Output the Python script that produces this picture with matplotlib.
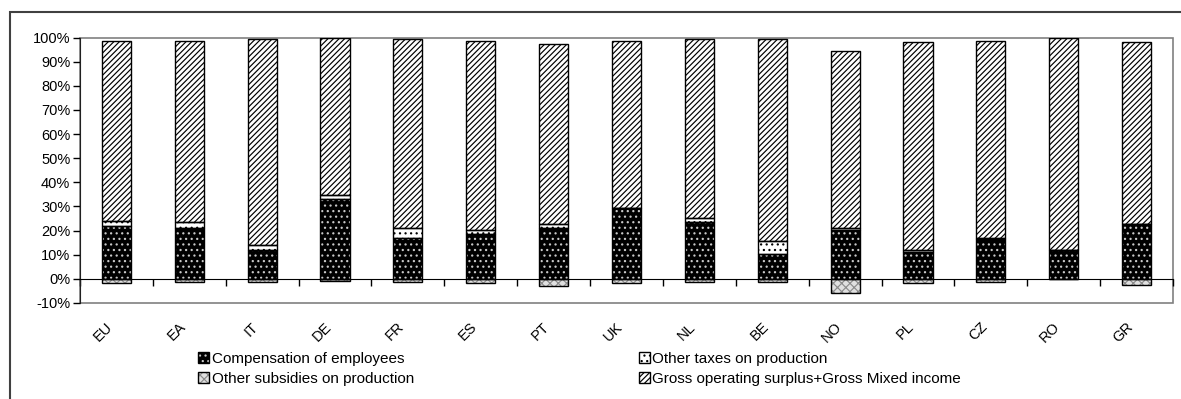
import matplotlib
matplotlib.use("Agg")
import matplotlib.pyplot as plt
import matplotlib.transforms as mtransforms
from matplotlib.patches import Rectangle
from matplotlib.ticker import FuncFormatter, FixedLocator
import numpy as np

plt.rcParams['font.family'] = ['Liberation Sans', 'DejaVu Sans']
plt.rcParams['axes.unicode_minus'] = False
plt.rcParams['hatch.linewidth'] = 0.85

# ---- data (% of value added) ----
countries = ['EU', 'EA', 'IT', 'DE', 'FR', 'ES', 'PT', 'UK', 'NL', 'BE', 'NO', 'PL', 'CZ', 'RO', 'GR']
compensation = [22.0, 20.9, 12.1, 33.2, 17.1, 18.7, 20.9, 29.5, 23.4, 10.1, 20.4, 11.3, 16.5, 12.1, 22.7]
other_taxes = [1.8, 2.5, 2.1, 1.6, 3.8, 1.7, 2.0, 0.0, 1.9, 5.5, 0.8, 0.8, 0.3, 0.0, 0.0]
other_subsidies = [-1.9, -1.2, -1.2, -0.7, -1.2, -1.9, -3.0, -1.9, -1.2, -1.2, -5.8, -1.9, -1.2, 0.0, -2.5]
gross_surplus = [74.8, 75.2, 85.2, 65.2, 78.5, 78.2, 74.5, 69.1, 74.1, 83.8, 73.3, 86.0, 81.8, 87.9, 75.4]

W, H = 1181, 399
fig = plt.figure(figsize=(W / 100, H / 100), dpi=100)
ax = fig.add_axes([80 / W, (H - 303) / H, (1173 - 80) / W, (303 - 37.5) / H])

x = np.arange(len(countries))
width = 0.4


def stacked(vals, bottom, face, hatch_col, hatch):
    # hatch colour follows edgecolor, so fill and outline are drawn separately
    fill = ax.bar(x, vals, width, bottom=bottom, color=face, edgecolor=hatch_col,
                  hatch=hatch, linewidth=0, zorder=2)
    edge = ax.bar(x, vals, width, bottom=bottom, fill=False, edgecolor='black',
                  linewidth=1.0, zorder=3)
    return (fill[0], edge[0])


comp = np.array(compensation)
tax = np.array(other_taxes)
h_comp = stacked(comp, 0, 'black', '#c8c8c8', '...')
h_tax = stacked(tax, comp, 'white', 'black', '...')
h_gross = stacked(np.array(gross_surplus), comp + tax, 'white', 'black', '//////')
h_subs = stacked(np.array(other_subsidies), 0, '#e0e0e0', '#8c8c8c', 'xxxx')

ax.set_xlim(-0.5, len(countries) - 0.5)
ax.set_ylim(-10, 100)

# plot area frame
ax.patch.set_edgecolor('#808080')
ax.patch.set_linewidth(1.2)
for s in ('top', 'right'):
    ax.spines[s].set_visible(False)
ax.spines['left'].set_color('#202020')
ax.spines['bottom'].set_position(('data', 0))
ax.spines['bottom'].set_color('black')
ax.spines['bottom'].set_zorder(4)

ax.set_yticks(np.arange(-10, 101, 10))
ax.yaxis.set_major_formatter(FuncFormatter(lambda v, p: f"{v:.0f}%"))
ax.tick_params(axis='y', direction='out', length=5, width=1, labelsize=10.5, pad=2)

ax.set_xticks(x)
ax.set_xticklabels(countries)
ax.xaxis.set_minor_locator(FixedLocator(np.arange(-0.5, len(countries), 1.0)))
ax.tick_params(axis='x', which='major', length=0, pad=33, labelsize=10.5)
ax.tick_params(axis='x', which='minor', direction='out', length=5, width=1)
shift = mtransforms.ScaledTranslation(-6 / 100, 0, fig.dpi_scale_trans)
for lab in ax.get_xticklabels():
    lab.set_rotation(45)
    lab.set_ha('right')
    lab.set_va('center')
    lab.set_rotation_mode('anchor')
    lab.set_transform(lab.get_transform() + shift)

leg = fig.legend([h_comp, h_subs, h_tax, h_gross],
                 ['Compensation of employees', 'Other subsidies on production',
                  'Other taxes on production', 'Gross operating surplus+Gross Mixed income'],
                 ncol=2, loc='upper left', bbox_to_anchor=(198 / W, 1 - 352 / H),
                 frameon=False, fontsize=11, borderpad=0, borderaxespad=0,
                 handlelength=0.75, handleheight=0.75, handletextpad=0.15,
                 labelspacing=0.4, columnspacing=14.7)

# outer chart border
fig.add_artist(Rectangle((10 / W, -0.1), 1.2, 1 - 12 / H + 0.1, transform=fig.transFigure,
                         fill=False, edgecolor='#404040', linewidth=1.5))

fig.savefig('out.png', dpi=100)
